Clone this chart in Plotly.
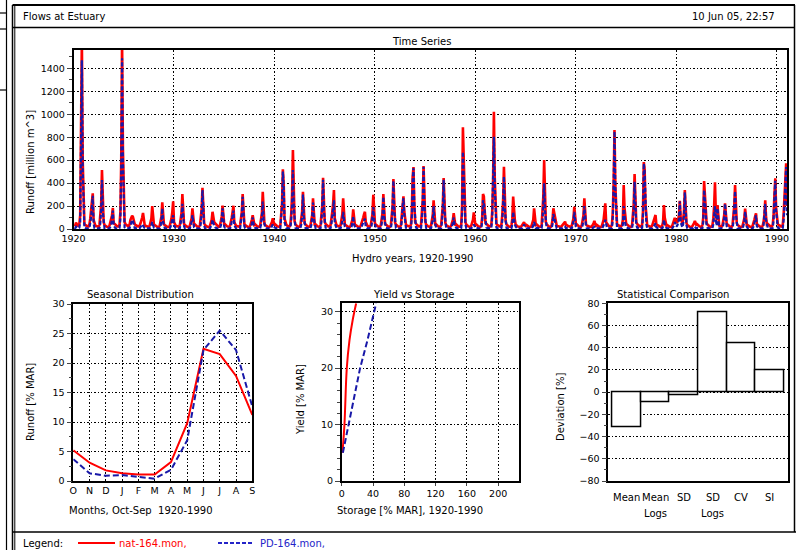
import plotly.graph_objects as go

# ---------------- DATA ----------------
HYDRO_YEARS = list(range(1920, 1991))

# monthly runoff (million m^3), hydro-year rows Oct..Sep, natural flows
NAT_MONTHLY = [
    [40, 30, 55, 35, 30, 28, 45, 120, 700, 1650, 600, 150],   # 1920
    [45, 35, 28, 25, 22, 22, 40, 90, 150, 230, 311, 80],
    [40, 32, 26, 22, 20, 20, 35, 100, 210, 514, 190, 60],
    [35, 28, 24, 20, 18, 18, 30, 60, 70, 120, 183, 50],
    [45, 35, 28, 25, 22, 22, 40, 150, 600, 1640, 700, 180],
    [60, 45, 35, 28, 25, 25, 40, 80, 110, 116, 105, 70],
    [45, 35, 28, 25, 22, 22, 30, 50, 70, 100, 139, 50],
    [35, 28, 24, 20, 18, 18, 30, 55, 90, 200, 85, 40],
    [35, 28, 24, 20, 18, 18, 30, 60, 110, 232, 95, 40],
    [35, 28, 24, 20, 18, 18, 30, 55, 90, 150, 241, 60],
    [40, 30, 26, 22, 20, 20, 35, 80, 140, 305, 130, 45],       # 1930
    [35, 28, 24, 20, 18, 18, 30, 60, 90, 180, 75, 35],
    [40, 30, 26, 22, 20, 20, 35, 90, 170, 360, 150, 50],
    [35, 28, 24, 20, 18, 18, 30, 60, 80, 150, 70, 60],
    [50, 40, 30, 24, 20, 20, 35, 70, 110, 203, 90, 40],
    [40, 30, 26, 22, 20, 20, 30, 60, 100, 150, 203, 60],
    [40, 30, 26, 22, 20, 20, 35, 80, 150, 305, 120, 45],
    [35, 28, 24, 20, 18, 18, 30, 50, 80, 120, 70, 35],
    [40, 30, 26, 22, 20, 20, 35, 80, 140, 325, 130, 45],
    [35, 28, 24, 20, 18, 18, 30, 45, 60, 93, 50, 30],
    [40, 30, 26, 22, 20, 20, 35, 120, 220, 520, 398, 90],      # 1940
    [50, 40, 30, 24, 22, 22, 40, 130, 300, 688, 250, 70],
    [40, 30, 26, 22, 20, 20, 35, 80, 150, 325, 140, 50],
    [40, 30, 26, 22, 20, 20, 35, 70, 120, 267, 110, 40],
    [40, 30, 26, 22, 20, 20, 35, 100, 200, 447, 180, 60],
    [45, 35, 28, 24, 22, 22, 35, 80, 150, 220, 340, 90],
    [45, 35, 28, 24, 22, 22, 35, 70, 130, 267, 100, 40],
    [35, 28, 24, 20, 18, 18, 30, 55, 80, 171, 70, 35],
    [35, 28, 24, 20, 18, 18, 30, 50, 70, 100, 130, 150],
    [60, 35, 28, 24, 20, 20, 35, 70, 130, 299, 120, 45],
    [40, 30, 26, 22, 20, 20, 35, 80, 140, 305, 130, 45],       # 1950
    [40, 30, 26, 22, 20, 20, 35, 100, 200, 435, 170, 55],
    [40, 30, 26, 22, 20, 20, 35, 120, 215, 285, 150, 50],
    [40, 30, 26, 22, 20, 20, 40, 150, 456, 540, 220, 60],
    [45, 35, 28, 24, 22, 22, 40, 130, 250, 549, 230, 70],
    [40, 30, 26, 22, 20, 20, 35, 70, 120, 250, 100, 40],
    [40, 30, 26, 22, 20, 20, 35, 100, 200, 444, 180, 55],
    [35, 28, 24, 20, 18, 18, 30, 50, 80, 137, 60, 30],
    [40, 30, 26, 22, 20, 20, 40, 200, 886, 520, 200, 60],
    [40, 30, 26, 22, 20, 20, 30, 50, 80, 144, 60, 30],
    [40, 30, 26, 22, 20, 20, 35, 100, 305, 283, 165, 50],      # 1960
    [45, 35, 28, 24, 22, 22, 40, 150, 400, 1022, 450, 100],
    [45, 35, 28, 24, 22, 22, 40, 120, 250, 543, 220, 70],
    [40, 30, 26, 22, 20, 20, 35, 90, 282, 150, 80, 40],
    [30, 25, 22, 20, 18, 18, 25, 35, 45, 60, 40, 28],
    [35, 28, 24, 20, 18, 18, 30, 50, 80, 180, 70, 35],
    [40, 30, 26, 22, 20, 20, 35, 120, 280, 600, 220, 60],
    [40, 30, 26, 22, 20, 20, 35, 80, 180, 137, 90, 40],
    [30, 25, 22, 20, 18, 18, 25, 35, 45, 50, 64, 35],
    [35, 28, 24, 20, 18, 18, 30, 60, 90, 194, 80, 35],
    [40, 30, 26, 22, 20, 20, 35, 70, 120, 267, 110, 40],       # 1970
    [30, 25, 22, 20, 18, 18, 25, 35, 50, 70, 45, 28],
    [35, 28, 24, 20, 18, 18, 30, 50, 80, 150, 224, 60],
    [45, 35, 28, 24, 22, 22, 40, 150, 400, 862, 380, 100],
    [45, 35, 28, 24, 22, 22, 35, 80, 383, 180, 90, 45],
    [40, 30, 26, 22, 20, 20, 35, 100, 220, 479, 200, 60],
    [45, 35, 28, 24, 22, 22, 40, 150, 583, 520, 220, 60],
    [35, 28, 24, 20, 18, 18, 30, 50, 70, 90, 122, 40],
    [35, 28, 24, 20, 18, 18, 30, 60, 209, 100, 50, 30],
    [35, 28, 24, 20, 18, 18, 30, 50, 70, 96, 80, 60],
    [60, 80, 120, 246, 100, 60, 50, 80, 150, 340, 140, 50],    # 1980
    [35, 28, 24, 20, 18, 18, 25, 35, 50, 70, 45, 30],
    [40, 30, 26, 22, 20, 20, 35, 100, 418, 300, 130, 50],
    [40, 30, 26, 22, 20, 20, 35, 90, 200, 407, 150, 80],
    [209, 60, 30, 24, 22, 22, 35, 70, 120, 224, 100, 45],
    [40, 30, 26, 22, 20, 20, 35, 100, 200, 383, 160, 50],
    [35, 28, 24, 20, 18, 18, 30, 60, 90, 178, 80, 35],
    [35, 28, 24, 20, 18, 18, 30, 50, 80, 110, 137, 45],
    [35, 28, 24, 20, 18, 18, 30, 60, 120, 250, 100, 40],
    [45, 35, 28, 24, 22, 22, 40, 120, 300, 441, 180, 60],
    [45, 35, 28, 24, 22, 22, 40, 130, 250, 400, 572, 200],     # 1990
]

# present-day flows
PD_MONTHLY = [
    [12, 8, 20, 10, 8, 6, 12, 60, 600, 1470, 520, 100],       # 1920
    [12, 8, 6, 5, 4, 4, 8, 40, 100, 200, 290, 50],
    [10, 7, 5, 4, 4, 4, 8, 50, 170, 427, 150, 40],
    [8, 6, 5, 4, 4, 4, 6, 20, 40, 90, 160, 30],
    [12, 8, 6, 5, 4, 4, 10, 90, 520, 1487, 600, 120],
    [15, 10, 8, 6, 5, 5, 8, 30, 60, 80, 70, 35],
    [10, 7, 5, 4, 4, 4, 6, 15, 25, 40, 30, 15],
    [8, 6, 5, 4, 4, 4, 6, 15, 30, 60, 30, 12],
    [8, 6, 5, 4, 4, 4, 6, 25, 70, 180, 60, 20],
    [8, 6, 5, 4, 4, 4, 6, 20, 50, 90, 120, 30],
    [10, 7, 5, 4, 4, 4, 8, 40, 100, 220, 90, 25],              # 1930
    [8, 6, 5, 4, 4, 4, 6, 25, 60, 120, 50, 15],
    [10, 7, 5, 4, 4, 4, 8, 50, 150, 340, 120, 30],
    [8, 6, 5, 4, 4, 4, 6, 20, 40, 80, 40, 25],
    [15, 8, 6, 5, 4, 4, 8, 30, 80, 180, 70, 20],
    [10, 7, 5, 4, 4, 4, 6, 20, 60, 100, 160, 30],
    [10, 7, 5, 4, 4, 4, 8, 50, 130, 280, 100, 25],
    [8, 6, 5, 4, 4, 4, 6, 20, 50, 100, 40, 15],
    [10, 7, 5, 4, 4, 4, 8, 40, 110, 240, 90, 25],
    [8, 6, 5, 4, 4, 4, 6, 12, 25, 40, 20, 10],
    [10, 7, 5, 4, 4, 4, 8, 80, 200, 500, 380, 60],             # 1940
    [15, 10, 7, 5, 5, 5, 10, 80, 220, 514, 200, 50],
    [10, 7, 5, 4, 4, 4, 8, 40, 120, 300, 110, 30],
    [10, 7, 5, 4, 4, 4, 8, 35, 100, 230, 90, 25],
    [10, 7, 5, 4, 4, 4, 8, 60, 180, 430, 160, 40],
    [12, 8, 6, 5, 4, 4, 8, 40, 110, 170, 250, 50],
    [12, 8, 6, 5, 4, 4, 8, 30, 70, 150, 60, 20],
    [8, 6, 5, 4, 4, 4, 6, 20, 50, 110, 40, 15],
    [8, 6, 5, 4, 4, 4, 6, 20, 40, 60, 80, 90],
    [20, 8, 6, 5, 4, 4, 8, 30, 90, 190, 80, 25],
    [10, 7, 5, 4, 4, 4, 8, 45, 120, 280, 110, 30],             # 1950
    [10, 7, 5, 4, 4, 4, 8, 60, 180, 420, 160, 40],
    [10, 7, 5, 4, 4, 4, 8, 70, 200, 270, 130, 35],
    [10, 7, 5, 4, 4, 4, 10, 100, 420, 530, 200, 45],
    [12, 8, 6, 5, 4, 4, 10, 80, 220, 540, 210, 50],
    [10, 7, 5, 4, 4, 4, 8, 35, 90, 200, 80, 25],
    [10, 7, 5, 4, 4, 4, 8, 60, 180, 430, 160, 40],
    [8, 6, 5, 4, 4, 4, 6, 20, 50, 100, 40, 15],
    [10, 7, 5, 4, 4, 4, 10, 120, 673, 400, 150, 40],
    [8, 6, 5, 4, 4, 4, 6, 12, 25, 40, 20, 10],
    [10, 7, 5, 4, 4, 4, 8, 60, 250, 230, 130, 30],             # 1960
    [15, 10, 7, 5, 5, 5, 10, 100, 350, 804, 380, 80],
    [12, 8, 6, 5, 4, 4, 10, 70, 200, 456, 180, 50],
    [10, 7, 5, 4, 4, 4, 8, 40, 150, 80, 40, 20],
    [6, 5, 4, 4, 3, 3, 5, 10, 20, 40, 20, 8],
    [8, 6, 5, 4, 4, 4, 6, 15, 30, 60, 25, 10],
    [10, 7, 5, 4, 4, 4, 8, 60, 200, 398, 160, 40],
    [10, 7, 5, 4, 4, 4, 8, 40, 130, 100, 60, 20],
    [6, 5, 4, 4, 3, 3, 5, 8, 12, 15, 20, 8],
    [8, 6, 5, 4, 4, 4, 6, 30, 70, 150, 60, 20],
    [10, 7, 5, 4, 4, 4, 8, 35, 90, 200, 80, 25],               # 1970
    [6, 5, 4, 4, 3, 3, 5, 8, 12, 20, 10, 6],
    [8, 6, 5, 4, 4, 4, 6, 15, 30, 50, 80, 20],
    [12, 8, 6, 5, 4, 4, 10, 100, 380, 850, 360, 80],
    [12, 8, 6, 5, 4, 4, 8, 40, 200, 90, 40, 15],
    [10, 7, 5, 4, 4, 4, 8, 60, 180, 412, 170, 40],
    [12, 8, 6, 5, 4, 4, 10, 100, 570, 500, 200, 45],
    [8, 6, 5, 4, 4, 4, 6, 12, 25, 35, 50, 15],
    [8, 6, 5, 4, 4, 4, 6, 20, 80, 40, 20, 10],
    [8, 6, 5, 4, 4, 4, 6, 15, 30, 60, 40, 20],
    [30, 50, 90, 240, 60, 20, 15, 40, 120, 320, 120, 30],      # 1980
    [6, 5, 4, 4, 3, 3, 5, 8, 12, 20, 10, 6],
    [10, 7, 5, 4, 4, 4, 8, 60, 340, 250, 100, 30],
    [10, 7, 5, 4, 4, 4, 8, 40, 100, 200, 80, 30],
    [180, 30, 10, 5, 4, 4, 8, 40, 100, 220, 90, 25],
    [10, 7, 5, 4, 4, 4, 8, 60, 160, 330, 130, 35],
    [8, 6, 5, 4, 4, 4, 6, 30, 70, 150, 60, 20],
    [8, 6, 5, 4, 4, 4, 6, 20, 50, 80, 120, 25],
    [8, 6, 5, 4, 4, 4, 6, 35, 100, 220, 80, 25],
    [12, 8, 6, 5, 4, 4, 10, 80, 280, 420, 160, 40],
    [12, 8, 6, 5, 4, 4, 10, 80, 220, 380, 540, 120],           # 1990
]

MONTHS = ["O", "N", "D", "J", "F", "M", "A", "M", "J", "J", "A", "S"]
SEASONAL_NAT = [5.2, 3.1, 1.8, 1.3, 1.1, 1.1, 3.2, 9.8, 22.4, 21.5, 17.8, 11.2]
SEASONAL_PD = [3.7, 1.3, 0.9, 1.0, 0.7, 0.4, 1.9, 6.9, 22.2, 25.5, 22.2, 12.6]

YIELD_NAT_STORAGE = [1.0, 3.5, 6.5, 10.0, 14.0, 18.5]
YIELD_NAT = [5.0, 10.0, 20.0, 25.0, 28.5, 31.5]
YIELD_PD_STORAGE = [1.5, 9.0, 16.0, 23.5, 33.0, 44.0]
YIELD_PD = [5.0, 10.0, 15.0, 20.0, 25.0, 31.5]

STAT_LABELS = ["Mean", "Mean", "SD", "SD", "CV", "SI"]
STAT_SUBLABELS = ["", "Logs", "", "Logs", "", ""]
STAT_VALUES = [-32.0, -8.8, -2.8, 72.3, 43.7, 20.0]

SERIES_NAMES = ["nat-164.mon,", "PD-164.mon,"]

# ---------------- STYLE / LAYOUT HELPERS ----------------
W, H = 796, 550
RED = "#ff0000"
BLUE = "#1818a8"
BLUE_TXT = "#2424c8"
FONT = "DejaVu Sans"
FS = 9.5      # tick labels
FA = 10       # titles / texts


def px(x):
    return x / W


def py(y):
    return 1 - y / H


# time axis: month-end positions of hydro years
ts_x, ts_nat, ts_pd = [], [], []
for yr, nrow, prow in zip(HYDRO_YEARS, NAT_MONTHLY, PD_MONTHLY):
    for m in range(12):
        ts_x.append(yr + (m + 1) / 12.0)
        ts_nat.append(nrow[m])
        ts_pd.append(prow[m])

fig = go.Figure()

# time series
fig.add_trace(go.Scatter(x=ts_x, y=ts_nat, mode="lines", line=dict(color=RED, width=2.6),
                         xaxis="x", yaxis="y", showlegend=False, hoverinfo="skip"))
fig.add_trace(go.Scatter(x=ts_x, y=ts_pd, mode="lines", line=dict(color=BLUE, width=2.2, dash="4px,2px"),
                         xaxis="x", yaxis="y", showlegend=False, hoverinfo="skip"))

# seasonal
mi = list(range(len(MONTHS)))
fig.add_trace(go.Scatter(x=mi, y=SEASONAL_NAT, mode="lines", line=dict(color=RED, width=2),
                         xaxis="x2", yaxis="y2", showlegend=False))
fig.add_trace(go.Scatter(x=mi, y=SEASONAL_PD, mode="lines", line=dict(color=BLUE, width=2, dash="6px,3px"),
                         xaxis="x2", yaxis="y2", showlegend=False))

# yield vs storage
fig.add_trace(go.Scatter(x=YIELD_NAT_STORAGE, y=YIELD_NAT, mode="lines", line=dict(color=RED, width=2, shape="spline"),
                         xaxis="x3", yaxis="y3", showlegend=False))
fig.add_trace(go.Scatter(x=YIELD_PD_STORAGE, y=YIELD_PD, mode="lines", line=dict(color=BLUE, width=2, dash="6px,3px"),
                         xaxis="x3", yaxis="y3", showlegend=False))

# statistics bars
si = list(range(len(STAT_VALUES)))
fig.add_trace(go.Bar(x=si, y=STAT_VALUES, width=1.0, marker=dict(color="white", line=dict(color="black", width=1.5)),
                     xaxis="x4", yaxis="y4", showlegend=False))

grid = dict(showgrid=True, gridcolor="black", griddash="1.5px,2px", gridwidth=1.3)
frame = dict(showline=True, linecolor="black", linewidth=1.5, mirror=True, zeroline=False)
tickf = dict(family=FONT, size=FS, color="black")

layout = dict(
    width=W, height=H, margin=dict(l=0, r=0, t=0, b=0, pad=0, autoexpand=False),
    paper_bgcolor="white", plot_bgcolor="white",
    font=dict(family=FONT, size=FS, color="black"),
    showlegend=False,
    bargap=0,
    xaxis=dict(domain=[px(73.5), px(787)], range=[1920, 1991], tick0=1920, dtick=10,
               ticks="", tickfont=tickf, anchor="y", automargin=False, **grid, **frame),
    yaxis=dict(domain=[py(229), py(50)], range=[0, 1560], tick0=0, dtick=200,
               ticks="outside", ticklen=5, tickwidth=1, tickfont=tickf, anchor="x", automargin=False,
               minor=dict(ticks="outside", ticklen=3, dtick=100, showgrid=False), **grid, **frame),
    xaxis2=dict(domain=[px(73.3), px(252.3)], range=[0, 11], tickvals=mi, ticktext=MONTHS,
                ticks="", tickfont=tickf, anchor="y2", automargin=False, **grid, **frame),
    yaxis2=dict(domain=[py(481), py(304)], range=[0, 30], dtick=5,
                ticks="outside", ticklen=5, tickfont=tickf, anchor="x2", automargin=False,
                minor=dict(ticks="outside", ticklen=3, dtick=2.5, showgrid=False), **grid, **frame),
    xaxis3=dict(domain=[px(341.7), px(519.3)], range=[0, 227], dtick=40,
                ticks="outside", ticklen=3, tickfont=tickf, anchor="y3", automargin=False, **grid, **frame),
    yaxis3=dict(domain=[py(481), py(303.3)], range=[0, 31.5], dtick=10,
                ticks="outside", ticklen=5, tickfont=tickf, anchor="x3", automargin=False,
                minor=dict(ticks="outside", ticklen=3, dtick=2, showgrid=False), **grid, **frame),
    xaxis4=dict(domain=[px(608.3), px(788.3)], range=[-0.65, 5.65], showticklabels=False,
                ticks="", showgrid=False, anchor="y4", automargin=False, **frame),
    yaxis4=dict(domain=[py(481), py(303.3)], range=[-80, 80], dtick=20,
                ticks="outside", ticklen=5, tickfont=tickf, anchor="x4", automargin=False,
                minor=dict(ticks="outside", ticklen=3, dtick=10, showgrid=False), **grid, **frame),
)

ann = []


def txt(x, y, s, anchor="center", angle=0, color="black", size=FA):
    ann.append(dict(x=px(x), y=py(y), xref="paper", yref="paper", text=s, showarrow=False,
                    xanchor=anchor, yanchor="middle", textangle=angle,
                    font=dict(family=FONT, size=size, color=color)))


txt(21, 17, "Flows at Estuary", "left")
txt(777, 17, "10 Jun 05, 22:57", "right")
txt(421, 41, "Time Series")
txt(30, 162, "Runoff [million m^3]", angle=-90)
txt(412, 258, "Hydro years, 1920-1990")
txt(140, 294, "Seasonal Distribution")
txt(30, 402, "Runoff [% MAR]", angle=-90)
txt(141, 510, "Months, Oct-Sep\u00a0\u00a01920-1990")
txt(413, 294, "Yield vs Storage")
txt(300, 400, "Yield [% MAR]", angle=-90)
txt(410, 510, "Storage [% MAR], 1920-1990")
txt(673, 294, "Statistical Comparison")
txt(560, 407, "Deviation [%]", angle=-90)
txt(21, 543, "Legend:", "left")
txt(117, 543, SERIES_NAMES[0], "left", color=RED)
txt(258, 543, SERIES_NAMES[1], "left", color=BLUE_TXT)

for i, (lab, sub) in enumerate(zip(STAT_LABELS, STAT_SUBLABELS)):
    ann.append(dict(x=i, y=py(498), xref="x4", yref="paper", text=lab, showarrow=False,
                    xanchor="center", yanchor="middle", font=dict(family=FONT, size=FA)))
    if sub:
        ann.append(dict(x=i, y=py(513), xref="x4", yref="paper", text=sub, showarrow=False,
                        xanchor="center", yanchor="middle", font=dict(family=FONT, size=FA)))

layout["annotations"] = ann

shapes = []


def line(x0, y0, x1, y1, w=1.5, color="black", dash=None):
    d = dict(type="line", xref="paper", yref="paper", x0=px(x0), y0=py(y0), x1=px(x1), y1=py(y1),
             line=dict(color=color, width=w))
    if dash:
        d["line"]["dash"] = dash
    shapes.append(d)


# left sliver panel
line(6.5, 0, 6.5, 550, 1.2)
line(0, 13, 6.5, 13, 1.2)
line(0, 29, 6.5, 29, 1.2)
line(0, 90, 6.5, 90, 1.2)
# main panel frame
line(12.5, 5, 12.5, 550, 1.5)
line(14.8, 5, 14.8, 550, 1)
line(12.5, 5, 795, 5, 2)
line(794.5, 5, 794.5, 532, 1.5)
line(12.5, 27.5, 795, 27.5, 1.5)
line(12.5, 532, 796, 532, 1.5)
# legend samples
line(78, 543, 115, 543, 2, RED)
line(218, 543, 253, 543, 2, BLUE_TXT, "4px,2px")

layout["shapes"] = shapes
fig.update_layout(**layout)
fig.write_html(
    "out.html",
    config={"displayModeBar": False},
    post_script="document.body.style.margin='0';document.body.style.padding='0';"
                "document.body.style.overflow='hidden';",
)
